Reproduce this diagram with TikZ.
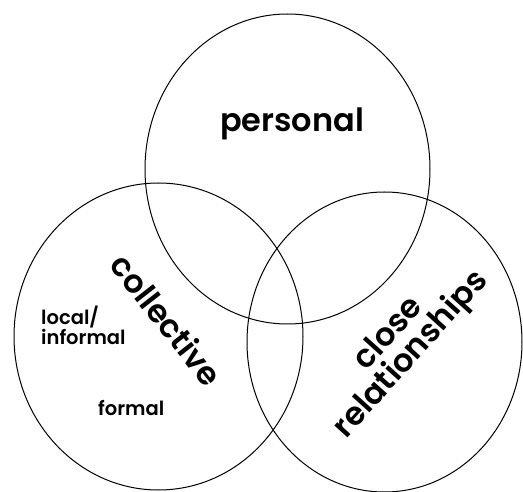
\documentclass[tikz,border=0pt]{standalone}
\usepackage{fontspec}
\newfontfamily\popfont{Poppins SemiBold}
\begin{document}
\begin{tikzpicture}[x=1pt,y=-1pt,
  ring/.style={draw=black, line width=1pt},
  big/.style={font=\popfont\fontsize{32}{34}\selectfont, inner sep=0pt},
  small/.style={font=\popfont\fontsize{19.5}{20}\selectfont, inner sep=0pt, align=left}]
\useasboundingbox (0,0) rectangle (523,492);
\draw[ring] (287.5,169) ellipse [x radius=142.5, y radius=155];
\draw[ring] (158.5,336.5) ellipse [x radius=144.5, y radius=153.5];
\draw[ring] (384.5,342) ellipse [x radius=137.5, y radius=150];
\node[big] (personal) at (292,124) {personal};
\node[big, rotate=-52] (collective) at (167,320) {collective};
\node[big, rotate=48, align=center] (close) at (401,345) {close\\[-4pt]relationships};
\node[small, anchor=west] (local) at (41,325) {local/\\informal};
\node[small, anchor=west] (formal) at (98,408) {formal};
\end{tikzpicture}
\end{document}
